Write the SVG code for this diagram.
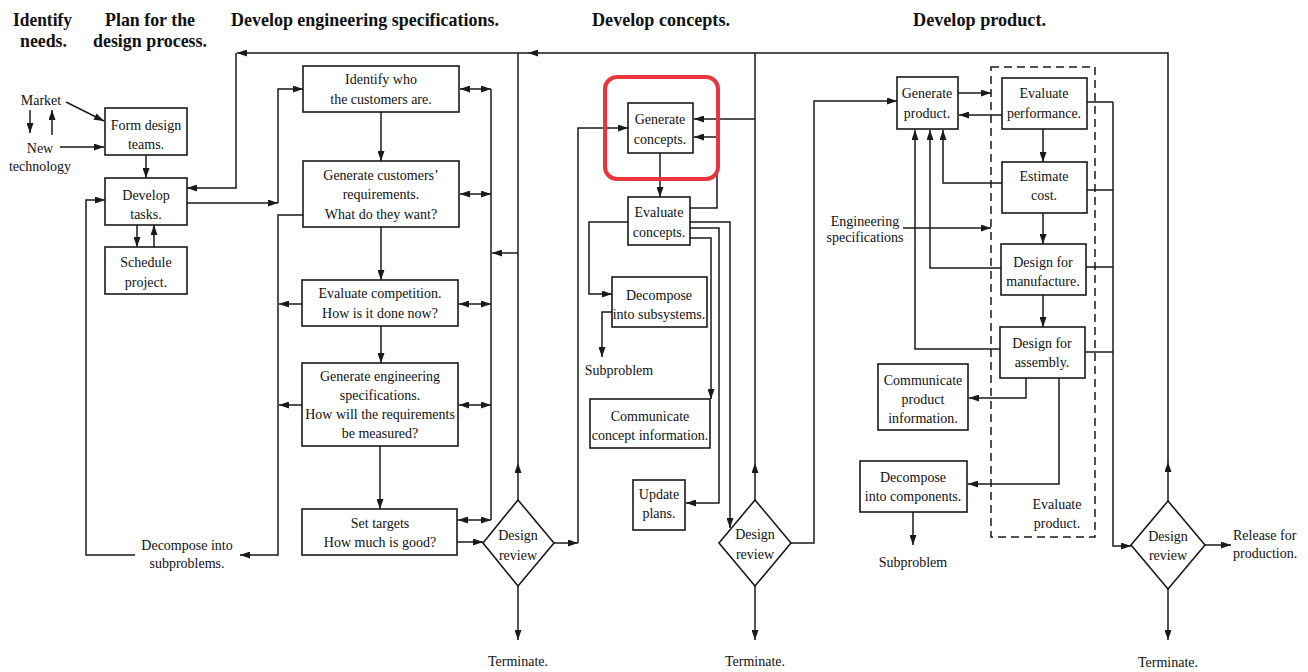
<svg xmlns="http://www.w3.org/2000/svg" width="1308" height="672" viewBox="0 0 1308 672">
<defs>
<style>
.box{fill:#fff;stroke:#1a1a1a;stroke-width:1.6}
.t{font-family:"Liberation Serif","Times New Roman",serif;font-size:14px;fill:#111;text-anchor:middle}
.h{font-family:"Liberation Serif","Times New Roman",serif;font-size:19px;font-weight:bold;fill:#111}
.c{fill:none;stroke:#1a1a1a;stroke-width:1.5}
.a{marker-end:url(#ah)}
.d{marker-start:url(#ahs);marker-end:url(#ah)}
.dash{fill:none;stroke:#1a1a1a;stroke-width:1.5;stroke-dasharray:8 5}
</style>
<marker id="ah" viewBox="0 0 10 7" refX="10" refY="3.5" markerWidth="11" markerHeight="7" markerUnits="userSpaceOnUse" orient="auto"><path d="M0,0 L10,3.5 L0,7 z" fill="#1a1a1a"/></marker>
<marker id="ahs" viewBox="0 0 10 7" refX="10" refY="3.5" markerWidth="11" markerHeight="7" markerUnits="userSpaceOnUse" orient="auto-start-reverse"><path d="M0,0 L10,3.5 L0,7 z" fill="#1a1a1a"/></marker>
</defs>
<rect width="1308" height="672" fill="#fff"/>

<g id="headers">
<text class="h" x="13" y="26" textLength="59" lengthAdjust="spacingAndGlyphs">Identify</text>
<text class="h" x="20" y="47" textLength="47" lengthAdjust="spacingAndGlyphs">needs.</text>
<text class="h" x="105" y="26" textLength="90" lengthAdjust="spacingAndGlyphs">Plan for the</text>
<text class="h" x="93" y="47" textLength="114" lengthAdjust="spacingAndGlyphs">design process.</text>
<text class="h" x="231" y="26" textLength="268" lengthAdjust="spacingAndGlyphs">Develop engineering specifications.</text>
<text class="h" x="592" y="26" textLength="138" lengthAdjust="spacingAndGlyphs">Develop concepts.</text>
<text class="h" x="913" y="26" textLength="133" lengthAdjust="spacingAndGlyphs">Develop product.</text>
</g>

<g id="connectors">
<!-- left -->
<path class="c a" d="M66,102 L104,121"/>
<path class="c a" d="M60,147 H104"/>
<path class="c a" d="M30,110 V133"/>
<path class="c a" d="M52,135 V110"/>
<path class="c a" d="M146,155 V178"/>
<path class="c a" d="M137,225 V247"/>
<path class="c a" d="M154,247 V225"/>
<path class="c a" d="M187,203 H278"/>
<path class="c a" d="M278,203 V89 H303"/>
<path class="c a" d="M135,555 H86 V200 H105"/>
<!-- top feedback line -->
<path class="c a" d="M1168,462 V53 H528"/>
<path class="c a" d="M528,53 H237"/>
<path class="c a" d="M236,53 V188 H187"/>
<!-- column 2 -->
<path class="c a" d="M381,112 V161"/>
<path class="c a" d="M381,227 V280"/>
<path class="c a" d="M381,326 V363"/>
<path class="c a" d="M380,446 V509"/>
<path class="c a" d="M302,304 H279"/>
<path class="c a" d="M302,405 H279"/>
<path class="c a" d="M303,215 H278 V555 H240"/>
<path class="c" d="M491,89 V520"/>
<path class="c d" d="M460,89 H491"/>
<path class="c d" d="M460,194 H491"/>
<path class="c d" d="M459,304 H491"/>
<path class="c d" d="M459,405 H491"/>
<path class="c d" d="M458,520 H491"/>
<path class="c a" d="M457,542 H483"/>
<path class="c a" d="M518,500 V463"/>
<path class="c" d="M518,463 V53"/>
<path class="c a" d="M518,253 H492"/>
<path class="c a" d="M518,586 V640"/>
<path class="c a" d="M554,543 H578"/>
<path class="c a" d="M578,543 V128 H628"/>
<!-- column 3 -->
<path class="c a" d="M660,153 V197"/>
<path class="c a" d="M690,208 H717 V137 H694"/>
<path class="c a" d="M628,222 H589 V294 H612"/>
<path class="c a" d="M612,312 H602 V357"/>
<path class="c a" d="M690,238 H711 V399"/>
<path class="c a" d="M690,228 H719 V503 H686"/>
<path class="c a" d="M690,222 H730 V528"/>
<path class="c a" d="M755,500 V463"/>
<path class="c" d="M755,463 V53"/>
<path class="c a" d="M755,119 H694"/>
<path class="c a" d="M755,586 V640"/>
<path class="c a" d="M791,543 H814 V101 H897"/>
<!-- column 4 -->
<path class="c a" d="M958,93 H991"/>
<path class="c a" d="M1002,115 H959"/>
<path class="c a" d="M1043,129 V162"/>
<path class="c a" d="M1043,213 V244"/>
<path class="c a" d="M1043,295 V327"/>
<path class="c a" d="M1002,183 H943 V130"/>
<path class="c a" d="M1001,268 H930 V130"/>
<path class="c a" d="M1000,349 H915 V130"/>
<path class="c a" d="M903,228 H991"/>
<path class="c a" d="M1026,378 V398 H969"/>
<path class="c a" d="M1059,378 V484 H968"/>
<path class="c a" d="M913,512 V545"/>
<path class="c" d="M1087,102 H1113 M1087,190 H1113 M1086,267 H1113 M1085,352 H1113"/>
<path class="c a" d="M1113,102 V546 H1131"/>
<path class="c a" d="M1168,501 V462"/>
<path class="c a" d="M1205,545 H1231"/>
<path class="c a" d="M1168,589 V640"/>
</g>

<g id="labels">
<text class="t" x="41" y="105">Market</text>
<text class="t" x="40" y="153">New</text>
<text class="t" x="40" y="171">technology</text>
<text class="t" x="187" y="550">Decompose into</text>
<text class="t" x="187" y="568">subproblems.</text>
<text class="t" x="518" y="666">Terminate.</text>
<text class="t" x="619" y="375">Subproblem</text>
<text class="t" x="755" y="666">Terminate.</text>
<text class="t" x="865" y="226">Engineering</text>
<text class="t" x="865" y="242">specifications</text>
<text class="t" x="913" y="567">Subproblem</text>
<text class="t" x="1057" y="509">Evaluate</text>
<text class="t" x="1057" y="528">product.</text>
<text class="t" x="1233" y="540" style="text-anchor:start">Release for</text>
<text class="t" x="1233" y="558" style="text-anchor:start">production.</text>
<text class="t" x="1168" y="667">Terminate.</text>
</g>

<g id="evaluate-product-frame"><rect class="dash" x="991" y="67" width="104" height="470"/></g>

<g id="form-teams"><rect class="box" x="105" y="108" width="82" height="47"/><text class="t" x="146" y="130">Form design</text><text class="t" x="146" y="149">teams.</text></g>
<g id="develop-tasks"><rect class="box" x="105" y="178" width="82" height="47"/><text class="t" x="146" y="200">Develop</text><text class="t" x="146" y="219">tasks.</text></g>
<g id="schedule"><rect class="box" x="105" y="247" width="82" height="47"/><text class="t" x="146" y="267">Schedule</text><text class="t" x="146" y="287">project.</text></g>

<g id="identify-customers"><rect class="box" x="303" y="66" width="156" height="46"/><text class="t" x="381" y="84">Identify who</text><text class="t" x="381" y="104">the customers are.</text></g>
<g id="customer-req"><rect class="box" x="303" y="161" width="156" height="66"/><text class="t" x="381" y="180">Generate customers’</text><text class="t" x="381" y="199">requirements.</text><text class="t" x="381" y="219">What do they want?</text></g>
<g id="eval-competition"><rect class="box" x="302" y="280" width="156" height="46"/><text class="t" x="380" y="298">Evaluate competition.</text><text class="t" x="380" y="318">How is it done now?</text></g>
<g id="eng-specs"><rect class="box" x="302" y="363" width="156" height="83"/><text class="t" x="380" y="381">Generate engineering</text><text class="t" x="380" y="400">specifications.</text><text class="t" x="380" y="419">How will the requirements</text><text class="t" x="380" y="438">be measured?</text></g>
<g id="set-targets"><rect class="box" x="302" y="509" width="155" height="46"/><text class="t" x="380" y="528">Set targets</text><text class="t" x="380" y="547">How much is good?</text></g>
<g id="review-1"><polygon class="box" points="518,500 554,543 518,586 483,543"/><text class="t" x="518" y="540">Design</text><text class="t" x="518" y="560">review</text></g>

<g id="generate-concepts"><rect class="box" x="628" y="103" width="65" height="50"/><text class="t" x="660" y="124">Generate</text><text class="t" x="660" y="144">concepts.</text><rect x="605" y="77" width="113" height="102" rx="12" fill="none" stroke="#e8363d" stroke-width="4"/></g>
<g id="evaluate-concepts"><rect class="box" x="628" y="197" width="62" height="48"/><text class="t" x="659" y="217">Evaluate</text><text class="t" x="659" y="237">concepts.</text></g>
<g id="decompose-subsystems"><rect class="box" x="612" y="277" width="95" height="50"/><text class="t" x="659" y="300">Decompose</text><text class="t" x="659" y="319">into subsystems.</text></g>
<g id="communicate-concept"><rect class="box" x="590" y="399" width="120" height="49"/><text class="t" x="650" y="421">Communicate</text><text class="t" x="650" y="440">concept information.</text></g>
<g id="update-plans"><rect class="box" x="633" y="480" width="52" height="50"/><text class="t" x="659" y="499">Update</text><text class="t" x="659" y="518">plans.</text></g>
<g id="review-2"><polygon class="box" points="755,500 791,543 755,586 719,543"/><text class="t" x="755" y="539">Design</text><text class="t" x="755" y="559">review</text></g>

<g id="generate-product"><rect class="box" x="897" y="77" width="61" height="52"/><text class="t" x="927" y="98">Generate</text><text class="t" x="927" y="118">product.</text></g>
<g id="evaluate-performance"><rect class="box" x="1002" y="78" width="85" height="51"/><text class="t" x="1044" y="98">Evaluate</text><text class="t" x="1044" y="118">performance.</text></g>
<g id="estimate-cost"><rect class="box" x="1002" y="162" width="85" height="51"/><text class="t" x="1044" y="181">Estimate</text><text class="t" x="1044" y="200">cost.</text></g>
<g id="dfm"><rect class="box" x="1001" y="244" width="85" height="51"/><text class="t" x="1043" y="267">Design for</text><text class="t" x="1043" y="286">manufacture.</text></g>
<g id="dfa"><rect class="box" x="1000" y="327" width="85" height="51"/><text class="t" x="1042" y="348">Design for</text><text class="t" x="1042" y="367">assembly.</text></g>
<g id="communicate-product"><rect class="box" x="878" y="364" width="90" height="66"/><text class="t" x="923" y="385">Communicate</text><text class="t" x="923" y="404">product</text><text class="t" x="923" y="423">information.</text></g>
<g id="decompose-components"><rect class="box" x="860" y="461" width="107" height="51"/><text class="t" x="913" y="482">Decompose</text><text class="t" x="913" y="501">into components.</text></g>
<g id="review-3"><polygon class="box" points="1168,501 1205,545 1168,589 1131,545"/><text class="t" x="1168" y="541">Design</text><text class="t" x="1168" y="560">review</text></g>
</svg>
